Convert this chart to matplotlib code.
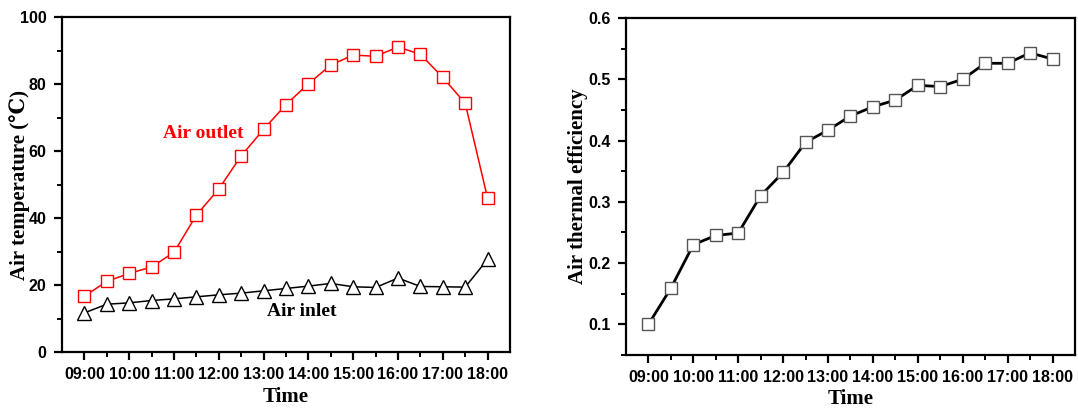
import matplotlib
matplotlib.use("Agg")
import matplotlib.pyplot as plt
from matplotlib.ticker import MultipleLocator

times = ["09:00", "10:00", "11:00", "12:00", "13:00", "14:00", "15:00", "16:00", "17:00", "18:00"]
air_outlet = [16.7, 21.1, 23.5, 25.4, 29.8, 40.9, 48.7, 58.6, 66.5, 73.9, 80.1, 85.7, 88.7, 88.3, 91.1, 88.9, 82.0, 74.3, 45.9]
air_inlet = [11.7, 14.3, 14.7, 15.4, 15.9, 16.5, 17.1, 17.6, 18.3, 19.0, 19.7, 20.5, 19.5, 19.3, 22.1, 19.6, 19.5, 19.4, 27.7]
efficiency = [0.100, 0.159, 0.230, 0.245, 0.249, 0.310, 0.348, 0.397, 0.417, 0.440, 0.455, 0.466, 0.490, 0.488, 0.500, 0.526, 0.526, 0.543, 0.533]

x = list(range(len(air_outlet)))

tick_font = ['Liberation Sans', 'DejaVu Sans']
label_font = ['Liberation Serif', 'DejaVu Serif']

fig = plt.figure(figsize=(10.78, 4.08), dpi=100)
ax1 = fig.add_axes([0.0575, 0.137, 0.4156, 0.821])
ax2 = fig.add_axes([0.5807, 0.130, 0.4165, 0.826])

ax1.plot(x, air_outlet, color='red', lw=1.1, marker='s', ms=8, mfc='white', mec='red', mew=1.0)
ax1.plot(x, air_inlet, color='black', lw=1.1, marker='^', ms=10, mfc='white', mec='black', mew=1.0)
ax1.set_ylim(0, 100)
ax1.yaxis.set_major_locator(MultipleLocator(20))
ax1.yaxis.set_minor_locator(MultipleLocator(10))
ax1.set_ylabel('Air temperature (℃)', family=label_font, fontweight='bold', fontsize=15)
ax1.yaxis.set_label_coords(-0.071, 0.5)
ax1.text(5.3, 65.4, 'Air outlet', color='red', family=label_font, fontweight='bold', fontsize=14, ha='center', va='center')
ax1.text(9.7, 12.2, 'Air inlet', color='black', family=label_font, fontweight='bold', fontsize=14, ha='center', va='center')

ax2.plot(x, efficiency, color='black', lw=2.0, marker='s', ms=9, mfc='white', mec='#555555', mew=1.0)
ax2.set_ylim(0.05, 0.6)
ax2.yaxis.set_major_locator(MultipleLocator(0.1))
ax2.yaxis.set_minor_locator(MultipleLocator(0.05))
ax2.set_ylabel('Air thermal efficiency', family=label_font, fontweight='bold', fontsize=15)
ax2.yaxis.set_label_coords(-0.085, 0.5)

for ax in (ax1, ax2):
    ax.set_xlim(-1, 19)
    ax.set_xticks(range(0, 19, 2))
    ax.set_xticklabels(times)
    ax.set_xticks(range(1, 19, 2), minor=True)
    ax.set_xlabel('Time', family=label_font, fontweight='bold', fontsize=15, labelpad=3)
    for s in ax.spines.values():
        s.set_linewidth(1.6)
    ax.tick_params(which='major', direction='out', length=6, width=1.6, labelsize=11.5, pad=5)
    ax.tick_params(which='minor', direction='out', length=3.5, width=1.4)
    for lab in ax.get_xticklabels() + ax.get_yticklabels():
        lab.set_family(tick_font)
        lab.set_fontweight('bold')

fig.savefig('out.png', dpi=100)
